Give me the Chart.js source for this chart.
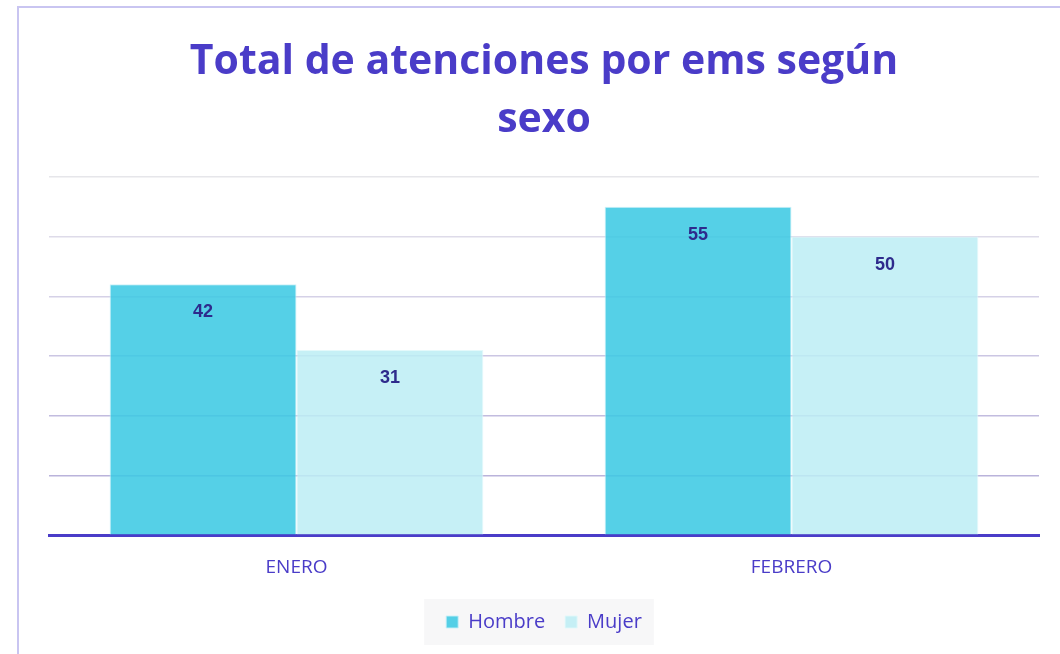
<!DOCTYPE html>
<html>
<head>
<meta charset="utf-8">
<script src="https://cdn.jsdelivr.net/npm/chart.js@4"></script>
<style>
  html, body { margin: 0; padding: 0; background: #fff; overflow: hidden; }
  .frame {
    position: absolute; left: 17px; top: 6px;
    width: 1060px; height: 660px;
    border-left: 2px solid #c9c5f1; border-top: 2px solid #c9c5f1;
  }
  .wrap { position: absolute; left: 0; top: 0; width: 1052px; height: 646px; }
</style>
</head>
<body>
<div class="frame">
  <div class="wrap"><canvas id="chart"></canvas></div>
</div>
<script>
const months = ['ENERO', 'FEBRERO'];
const hombre = [42, 55];
const mujer = [31, 50];
const seriesNames = ['Hombre', 'Mujer'];

const purple = '#4a3cc8';
const labelColor = '#2e2a8c';
const gridColors = { 60: '#e6e6ea', 50: '#dedbe9', 40: '#d5d1e7', 30: '#cbc6e3', 20: '#c2bcdf', 10: '#bab3db' };

// grey backdrop behind the legend items only
const legendBox = {
  id: 'legendBox',
  beforeDraw(chart) {
    const l = chart.legend;
    if (!l || !l.legendHitBoxes || !l.legendHitBoxes.length) return;
    const boxes = l.legendHitBoxes;
    const left = Math.min(...boxes.map(b => b.left));
    const right = Math.max(...boxes.map(b => b.left + b.width));
    const mid = boxes[0].top + boxes[0].height / 2;
    const ctx = chart.ctx;
    ctx.save();
    ctx.fillStyle = '#f7f7f8';
    ctx.fillRect(left - 22, mid - 23, right - left + 34, 46);
    ctx.restore();
  }
};

// numbers inside the bars, near the top
const barValues = {
  id: 'barValues',
  afterDraw(chart) {
    const ctx = chart.ctx;
    ctx.save();
    ctx.font = 'bold 18px "Liberation Sans", Arial, sans-serif';
    ctx.fillStyle = labelColor;
    ctx.textAlign = 'center';
    ctx.textBaseline = 'middle';
    chart.data.datasets.forEach((ds, i) => {
      chart.getDatasetMeta(i).data.forEach((bar, j) => {
        ctx.fillText(ds.data[j], bar.x, bar.y + 28);
      });
    });
    ctx.restore();
  }
};

new Chart(document.getElementById('chart'), {
  type: 'bar',
  data: {
    labels: months,
    datasets: [
      {
        label: seriesNames[0],
        data: hombre,
        backgroundColor: 'rgba(60, 201, 228, 0.87)',
        borderColor: 'rgba(200, 240, 248, 0.9)',
        borderWidth: 1
      },
      {
        label: seriesNames[1],
        data: mujer,
        backgroundColor: 'rgba(188, 237, 244, 0.85)',
        borderColor: 'rgba(225, 248, 251, 0.9)',
        borderWidth: 1
      }
    ]
  },
  options: {
    responsive: true,
    maintainAspectRatio: false,
    animation: false,
    layout: { padding: { left: 30, right: 32, top: 24, bottom: 12 } },
    datasets: { bar: { categoryPercentage: 0.755, barPercentage: 1 } },
    scales: {
      x: {
        z: 2,
        grid: { display: false },
        border: { display: true, color: purple, width: 3 },
        ticks: { color: purple, font: { family: 'Open Sans', size: 19 }, padding: 13 }
      },
      y: {
        min: 0,
        max: 60,
        z: 1,
        ticks: { display: false, stepSize: 10 },
        grid: {
          drawTicks: false,
          lineWidth: 1.5,
          color: c => gridColors[c.tick.value] || 'transparent'
        },
        border: { display: false }
      }
    },
    plugins: {
      title: {
        display: true,
        text: ['Total de atenciones por ems según', 'sexo'],
        color: purple,
        font: { family: 'Open Sans', size: 41, weight: 'bold', lineHeight: 1.4 },
        padding: { top: 2, bottom: 28 }
      },
      legend: {
        position: 'bottom',
        labels: {
          color: purple,
          font: { family: 'Open Sans', size: 20 },
          boxWidth: 12,
          boxHeight: 12,
          padding: 20
        }
      },
      tooltip: { enabled: false }
    }
  },
  plugins: [legendBox, barValues]
});
</script>
</body>
</html>
